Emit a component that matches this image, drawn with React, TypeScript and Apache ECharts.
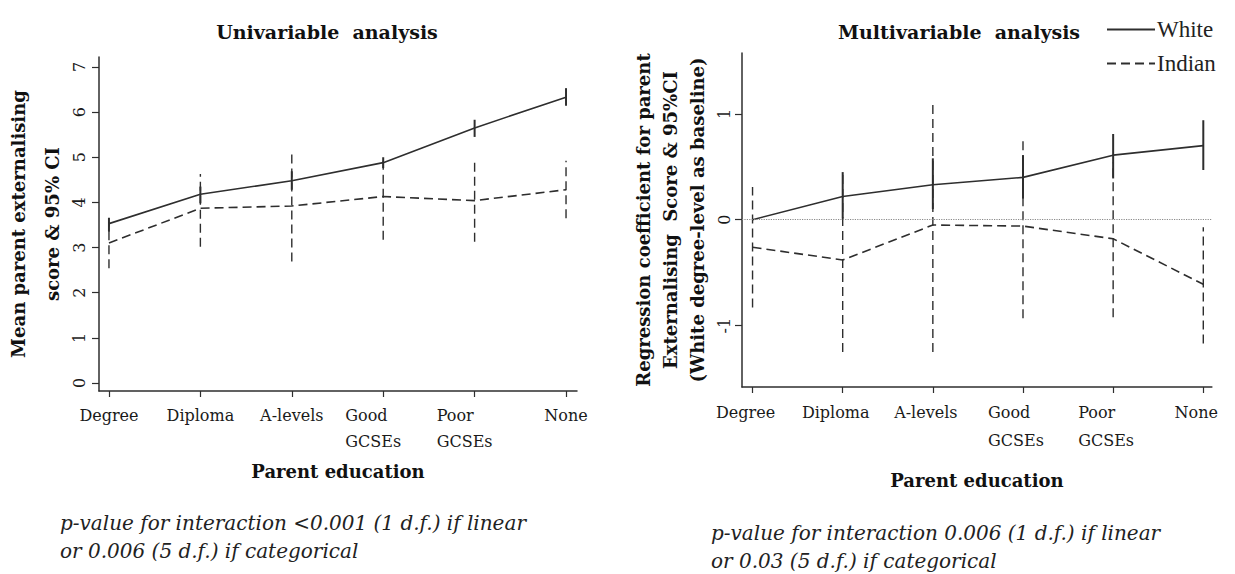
import React, { useEffect, useRef } from 'react';
import * as echarts from 'echarts';

// ---------- data ----------
const categories = ['Degree', 'Diploma', 'A-levels', 'Good\nGCSEs', 'Poor\nGCSEs', 'None'];

// Univariable analysis: mean parent externalising score & 95% CI
const uniWhiteMean = [3.53, 4.18, 4.48, 4.88, 5.65, 6.33];
const uniWhiteLow = [3.35, 3.98, 4.28, 4.76, 5.45, 6.14];
const uniWhiteHigh = [3.66, 4.35, 4.69, 5.0, 5.83, 6.53];
const uniIndianMean = [3.1, 3.87, 3.92, 4.13, 4.04, 4.28];
const uniIndianLow = [2.54, 3.02, 2.69, 3.17, 3.13, 3.65];
const uniIndianHigh = [3.55, 4.63, 5.11, 4.97, 4.96, 4.92];

// Multivariable analysis: regression coefficient & 95% CI
const multiWhiteMean = [0, 0.22, 0.33, 0.4, 0.61, 0.7];
const multiWhiteLow = [0, 0.01, 0.1, 0.2, 0.39, 0.47];
const multiWhiteHigh = [0, 0.45, 0.58, 0.61, 0.81, 0.94];
const multiIndianMean = [-0.26, -0.38, -0.05, -0.06, -0.18, -0.61];
const multiIndianLow = [-0.83, -1.25, -1.25, -0.93, -0.92, -1.17];
const multiIndianHigh = [0.31, 0.45, 1.13, 0.78, 0.54, -0.07];

const uniYTicks = [0, 1, 2, 3, 4, 5, 6, 7];
const multiYTicks = [-1, 0, 1];
const xTicks = [0, 1, 2, 3, 4, 5];

// ---------- styles ----------
const INK = '#2e2e2e';
const SERIF = 'DejaVu Serif';

const pts = (v: number[]) => v.map((y, i) => [i, y]);
const ci = (lo: number[], hi: number[]) => lo.map((l, i) => [i, l, hi[i]]);

const renderCI = (dashed: boolean) => (_params: any, api: any) => {
  const x = api.value(0);
  const p1 = api.coord([x, api.value(1)]);
  const p2 = api.coord([x, api.value(2)]);
  return {
    type: 'line',
    shape: { x1: p1[0], y1: p1[1], x2: p2[0], y2: p2[1] },
    style: {
      stroke: INK,
      lineWidth: dashed ? 1.4 : 2,
      lineDash: dashed ? [9, 5] : null,
      fill: 'none',
    },
  };
};

const labelFormatter = (multiPad: boolean) => (v: number) => {
  const c = categories[Math.round(v)] ?? '';
  if (c.includes('\n') || multiPad) {
    return c
      .split('\n')
      .map((s) => `{l|${s}}`)
      .join('\n');
  }
  return c;
};

function makeXAxis(gridIndex: number, min: number, max: number, padRight: number, allRich: boolean, nameGap: number, lineH: number) {
  return {
    type: 'value',
    gridIndex,
    min,
    max,
    name: 'Parent education',
    nameLocation: 'middle',
    nameGap,
    nameTextStyle: { fontFamily: SERIF, fontWeight: 'bold', fontSize: 18, color: '#111' },
    axisLine: { show: true, onZero: false, lineStyle: { color: INK, width: 1.5 } },
    axisTick: { show: true, customValues: xTicks, length: 6, lineStyle: { color: INK, width: 1.2 } },
    splitLine: { show: false },
    axisLabel: {
      customValues: xTicks,
      formatter: labelFormatter(allRich),
      fontFamily: SERIF,
      fontSize: 16,
      color: '#1a1a1a',
      margin: 11,
      lineHeight: lineH,
      rich: {
        l: {
          align: 'left',
          fontFamily: SERIF,
          fontSize: 16,
          color: '#1a1a1a',
          lineHeight: lineH,
          padding: [0, padRight, 0, 0],
        },
      },
    },
  };
}

function makeYAxis(
  gridIndex: number,
  min: number,
  max: number,
  ticks: number[],
  name: string,
  nameGap: number,
  nameLH: number,
  labelMargin: number,
  moveOverlap: boolean
) {
  return {
    type: 'value',
    gridIndex,
    min,
    max,
    name,
    nameLocation: 'middle',
    nameRotate: 90,
    nameGap,
    nameMoveOverlap: moveOverlap,
    nameTextStyle: {
      fontFamily: SERIF,
      fontWeight: 'bold',
      fontSize: 18,
      color: '#111',
      lineHeight: nameLH,
      align: 'center',
    },
    axisLine: { show: true, onZero: false, lineStyle: { color: INK, width: 1.5 } },
    axisTick: { show: true, customValues: ticks, length: 7, lineStyle: { color: INK, width: 1.2 } },
    splitLine: { show: false },
    axisLabel: {
      customValues: ticks,
      rotate: 90,
      fontFamily: SERIF,
      fontSize: 16,
      color: '#1a1a1a',
      margin: labelMargin,
    },
  };
}

export default function App() {
  const ref = useRef<HTMLDivElement>(null);

  useEffect(() => {
    document.body.style.margin = '0';
    if (!ref.current) return;
    const chart = echarts.init(ref.current, undefined, { renderer: 'svg' });

    const lineSeries = (name: string, data: number[], xi: number, dashed: boolean, extra: any = {}) => ({
      type: 'line',
      name,
      xAxisIndex: xi,
      yAxisIndex: xi,
      data: pts(data),
      symbol: 'none',
      lineStyle: { color: INK, width: 1.6, type: dashed ? [9, 5] : 'solid' },
      itemStyle: { color: INK },
      z: 3,
      ...extra,
    });

    const ciSeries = (name: string, lo: number[], hi: number[], xi: number, dashed: boolean) => ({
      type: 'custom',
      name,
      xAxisIndex: xi,
      yAxisIndex: xi,
      data: ci(lo, hi),
      encode: { x: 0, y: [1, 2] },
      renderItem: renderCI(dashed),
      z: 2,
    });

    const footStyle = {
      fontFamily: SERIF,
      fontStyle: 'italic',
      fontWeight: 'normal',
      fontSize: 20,
      color: '#222',
      lineHeight: 28,
    };

    chart.setOption({
      animation: false,
      backgroundColor: '#ffffff',
      textStyle: { fontFamily: SERIF },
      title: [
        {
          text: 'Univariable  analysis',
          left: 322,
          top: 17,
          textAlign: 'center',
          textStyle: { fontFamily: SERIF, fontWeight: 'bold', fontSize: 19, color: '#111' },
        },
        {
          text: 'Multivariable  analysis',
          left: 954,
          top: 17,
          textAlign: 'center',
          textStyle: { fontFamily: SERIF, fontWeight: 'bold', fontSize: 19, color: '#111' },
        },
        {
          text: 'p-value for interaction <0.001 (1 d.f.) if linear\nor 0.006 (5 d.f.) if categorical',
          left: 60,
          top: 509,
          padding: 0,
          textStyle: footStyle,
        },
        {
          text: 'p-value for interaction 0.006 (1 d.f.) if linear\nor 0.03 (5 d.f.) if categorical',
          left: 711,
          top: 519,
          padding: 0,
          textStyle: footStyle,
        },
      ],
      legend: {
        data: ['White', 'Indian'],
        orient: 'vertical',
        left: 1106,
        top: 18,
        itemWidth: 48,
        itemHeight: 14,
        itemGap: 11,
        padding: 0,
        selectedMode: false,
        itemStyle: { color: 'rgba(0,0,0,0)', borderWidth: 0, opacity: 0 },
        textStyle: { fontFamily: 'Liberation Serif', fontSize: 23, color: '#222', padding: [0, 0, 0, -3] },
      },
      grid: [
        { left: 98, top: 57, width: 479, height: 334, containLabel: false },
        { left: 742, top: 53, width: 476, height: 334, containLabel: false },
      ],
      xAxis: [
        makeXAxis(0, -0.109, 5.12, 20, false, 71, 26),
        makeXAxis(1, -0.117, 5.095, 14, true, 84, 28),
      ],
      yAxis: [
        makeYAxis(0, -0.177, 7.22, uniYTicks, 'Mean parent externalising\nscore & 95% CI', 30, 34, 12, false),
        makeYAxis(
          1,
          -1.58,
          1.575,
          multiYTicks,
          'Regression coefficient for parent\nExternalising  Score & 95%CI\n(White degree-level as baseline)',
          31,
          27,
          10,
          true
        ),
      ],
      series: [
        lineSeries('White', uniWhiteMean, 0, false),
        lineSeries('Indian', uniIndianMean, 0, true),
        ciSeries('White 95% CI (univariable)', uniWhiteLow, uniWhiteHigh, 0, false),
        ciSeries('Indian 95% CI (univariable)', uniIndianLow, uniIndianHigh, 0, true),
        lineSeries('White', multiWhiteMean, 1, false, {
          markLine: {
            silent: true,
            symbol: ['none', 'none'],
            label: { show: false },
            lineStyle: { color: '#8a8a8a', width: 1.2, type: 'dotted' },
            data: [{ yAxis: 0 }],
          },
        }),
        lineSeries('Indian', multiIndianMean, 1, true),
        ciSeries('White 95% CI (multivariable)', multiWhiteLow, multiWhiteHigh, 1, false),
        ciSeries('Indian 95% CI (multivariable)', multiIndianLow, multiIndianHigh, 1, true),
      ],
    });

    return () => chart.dispose();
  }, []);

  return (
    <div
      ref={ref}
      style={{ position: 'fixed', left: 0, top: 0, width: 1235, height: 574, background: '#fff' }}
    />
  );
}
